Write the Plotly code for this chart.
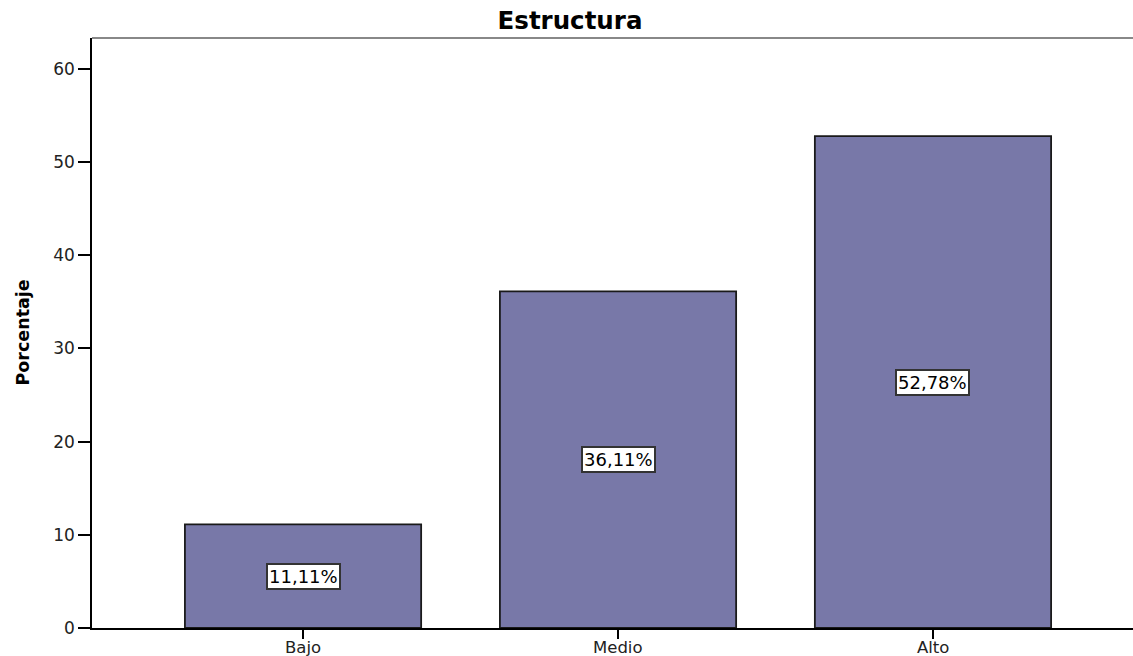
import plotly.graph_objects as go

categories = ["Bajo", "Medio", "Alto"]
values = [11.11, 36.11, 52.78]
labels = ["11,11%", "36,11%", "52,78%"]
y_ticks = [0, 10, 20, 30, 40, 50, 60]

FONT = "DejaVu Sans, Liberation Sans, Arial"

fig = go.Figure()
fig.add_trace(go.Bar(
    x=categories, y=values, width=0.75,
    marker=dict(color="#7878A8", line=dict(color="#1a1a1a", width=1.8)),
    hoverinfo="skip",
))

for c, v, t in zip(categories, values, labels):
    fig.add_annotation(
        x=c, y=v / 2, text=t, showarrow=False,
        font=dict(family=FONT, size=18, color="black"),
        bgcolor="white", bordercolor="#333333", borderwidth=2, borderpad=1,
    )

# category labels (placed tight under the axis, as in the reference)
for c in categories:
    fig.add_annotation(
        x=c, xref="x", y=0, yref="paper", yanchor="top", yshift=-9,
        text=c, showarrow=False, borderpad=0,
        font=dict(family=FONT, size=16.5, color="#222222"),
    )

# y-axis title
fig.add_annotation(
    xref="paper", yref="paper", x=0, y=0.5, xanchor="center", yanchor="middle",
    xshift=-69.5, text="<b>Porcentaje</b>", textangle=-90, showarrow=False,
    font=dict(family=FONT, size=17.5, color="black"),
)

# top frame line
fig.add_shape(type="line", xref="paper", yref="paper", x0=0, x1=1, y0=1, y1=1,
              line=dict(color="#888888", width=2))

fig.update_layout(
    width=1133, height=656,
    margin=dict(l=92, r=0, t=38, b=28, autoexpand=False),
    paper_bgcolor="white", plot_bgcolor="white",
    showlegend=False,
    title=dict(text="<b>Estructura</b>", xref="container", x=570 / 1133, xanchor="center",
               yref="container", y=1 - 20 / 656, yanchor="middle",
               font=dict(family=FONT, size=24.5, color="black")),
    xaxis=dict(
        type="category", range=[-0.67, 2.635], automargin=False,
        showline=True, linecolor="black", linewidth=1.5,
        ticks="outside", ticklen=9, tickcolor="black", tickwidth=1.5,
        showticklabels=False,
        showgrid=False, zeroline=False,
    ),
    yaxis=dict(
        range=[0, 63.3], tickvals=y_ticks, automargin=False,
        showline=True, linecolor="black", linewidth=1.5,
        ticks="outside", ticklen=12, tickcolor="black", tickwidth=1.5,
        tickfont=dict(family=FONT, size=17, color="#222222"),
        showgrid=False, zeroline=False,
    ),
)

fig.write_html("out.html", config={"displayModeBar": False},
               post_script="document.body.style.margin='0px';")
